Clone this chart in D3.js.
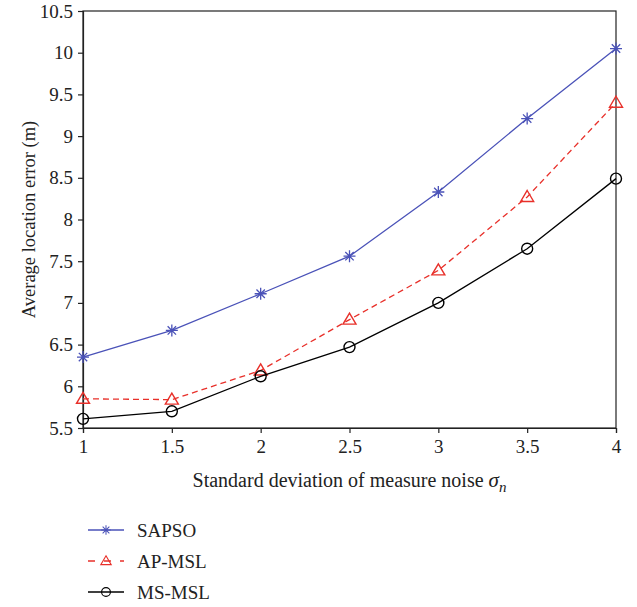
<!DOCTYPE html>
<html>
<head>
<meta charset="utf-8">
<script src="https://cdn.jsdelivr.net/npm/d3@7"></script>
<style>
  body { margin: 0; background: #fff; }
  svg text { font-family: "Liberation Serif", "Times New Roman", serif; }
</style>
</head>
<body>
<div id="chart"></div>
<script>
// data
var noiseLevels = [1, 1.5, 2, 2.5, 3, 3.5, 4];
var sapso = [6.35, 6.67, 7.11, 7.56, 8.33, 9.21, 10.05];
var apMsl = [5.85, 5.84, 6.19, 6.80, 7.39, 8.27, 9.40];
var msMsl = [5.61, 5.70, 6.12, 6.47, 7.00, 7.65, 8.49];
var yTicks = [5.5, 6, 6.5, 7, 7.5, 8, 8.5, 9, 9.5, 10, 10.5];
var xTicks = [1, 1.5, 2, 2.5, 3, 3.5, 4];

var seriesNames = ["SAPSO", "AP-MSL", "MS-MSL"];
var seriesValues = [sapso, apMsl, msMsl];
var seriesColors = ["#4a52b8", "#e8302a", "#000000"];
var seriesDash = [null, "6,4", null];
var seriesMarker = ["star", "triangle", "circle"];

var width = 637, height = 607;
var margin = {top: 11, right: 21, bottom: 179, left: 83};
var plotW = width - margin.left - margin.right,
	plotH = height - margin.top - margin.bottom;

var svg = d3.select("#chart")
	.append("svg")
	.attr("width", width)
	.attr("height", height);

var g = svg.append("g")
	.attr("transform", "translate(" + margin.left + "," + margin.top + ")");

var x = d3.scaleLinear().domain([1, 4]).range([0, plotW]);
var y = d3.scaleLinear().domain([5.5, 10.5]).range([plotH, 0]);

// frame
g.append("rect")
	.attr("width", plotW)
	.attr("height", plotH)
	.attr("fill", "none")
	.attr("stroke", "#222")
	.attr("stroke-width", 1.2);

// axes
var xAxis = g.append("g")
	.attr("transform", "translate(0," + plotH + ")")
	.call(d3.axisBottom(x).tickValues(xTicks).tickSize(5).tickPadding(7).tickFormat(d => String(d)));
var yAxis = g.append("g")
	.call(d3.axisLeft(y).tickValues(yTicks).tickSize(5).tickPadding(5).tickFormat(d => String(d)));

[xAxis, yAxis].forEach(function(a) {
	a.select(".domain").attr("stroke", "#222").attr("stroke-width", 1.2);
	a.selectAll(".tick line").attr("stroke", "#222").attr("stroke-width", 1.2);
	a.selectAll("text")
		.style("font-family", "Liberation Serif, serif")
		.style("font-size", "19px")
		.attr("fill", "#222");
});

// axis titles
var xTitle = svg.append("text")
	.attr("x", margin.left + plotW / 2)
	.attr("y", 487)
	.attr("text-anchor", "middle")
	.style("font-size", "20px")
	.attr("fill", "#222");
xTitle.append("tspan").text("Standard deviation of measure noise ");
xTitle.append("tspan").attr("font-style", "italic").style("font-size", "21px").text("σ");
xTitle.append("tspan").attr("font-style", "italic").attr("dy", 5).style("font-size", "15px").text("n");

svg.append("text")
	.attr("transform", "translate(35," + (margin.top + plotH / 2) + ")rotate(-90)")
	.attr("text-anchor", "middle")
	.style("font-size", "18.5px")
	.attr("fill", "#222")
	.text("Average location error (m)");

// marker drawing
function drawMarker(sel, type, color) {
	if (type === "star") {
		var s = 6;
		sel.append("path")
			.attr("d", "M" + (-s) + ",0H" + s + "M0," + (-s) + "V" + s +
				"M" + (-s * 0.7) + "," + (-s * 0.7) + "L" + (s * 0.7) + "," + (s * 0.7) +
				"M" + (-s * 0.7) + "," + (s * 0.7) + "L" + (s * 0.7) + "," + (-s * 0.7))
			.attr("stroke", color)
			.attr("stroke-width", 1.3)
			.attr("fill", "none");
	} else if (type === "triangle") {
		sel.append("path")
			.attr("d", "M0,-6.5L6.5,4.5L-6.5,4.5Z")
			.attr("stroke", color)
			.attr("stroke-width", 1.4)
			.attr("fill", "none");
	} else {
		sel.append("circle")
			.attr("r", 5.5)
			.attr("stroke", color)
			.attr("stroke-width", 1.4)
			.attr("fill", "none");
	}
}

var line = d3.line()
	.x(d => x(d[0]))
	.y(d => y(d[1]));

seriesValues.forEach(function(vals, i) {
	var pts = noiseLevels.map((n, j) => [n, vals[j]]);
	g.append("path")
		.datum(pts)
		.attr("d", line)
		.attr("fill", "none")
		.attr("stroke", seriesColors[i])
		.attr("stroke-width", 1.3)
		.attr("stroke-dasharray", seriesDash[i]);
	g.append("g")
		.selectAll("g")
		.data(pts)
		.enter()
		.append("g")
		.attr("transform", d => "translate(" + x(d[0]) + "," + y(d[1]) + ")")
		.each(function() { drawMarker(d3.select(this), seriesMarker[i], seriesColors[i]); });
});

// legend
var legend = svg.append("g").attr("transform", "translate(88,530)");
seriesNames.forEach(function(name, i) {
	var row = legend.append("g").attr("transform", "translate(0," + (i * 31) + ")");
	row.append("line")
		.attr("x1", 0).attr("x2", 36)
		.attr("stroke", seriesColors[i])
		.attr("stroke-width", 1.3)
		.attr("stroke-dasharray", i === 1 ? "7,9" : null);
	var m = row.append("g");
	drawMarker(m, seriesMarker[i], seriesColors[i]);
	m.attr("transform", "translate(18,0)scale(0.8)");
	row.append("text")
		.attr("x", 49)
		.attr("y", 7)
		.style("font-size", "19px")
		.attr("fill", "#222")
		.text(name);
});
</script>
</body>
</html>
